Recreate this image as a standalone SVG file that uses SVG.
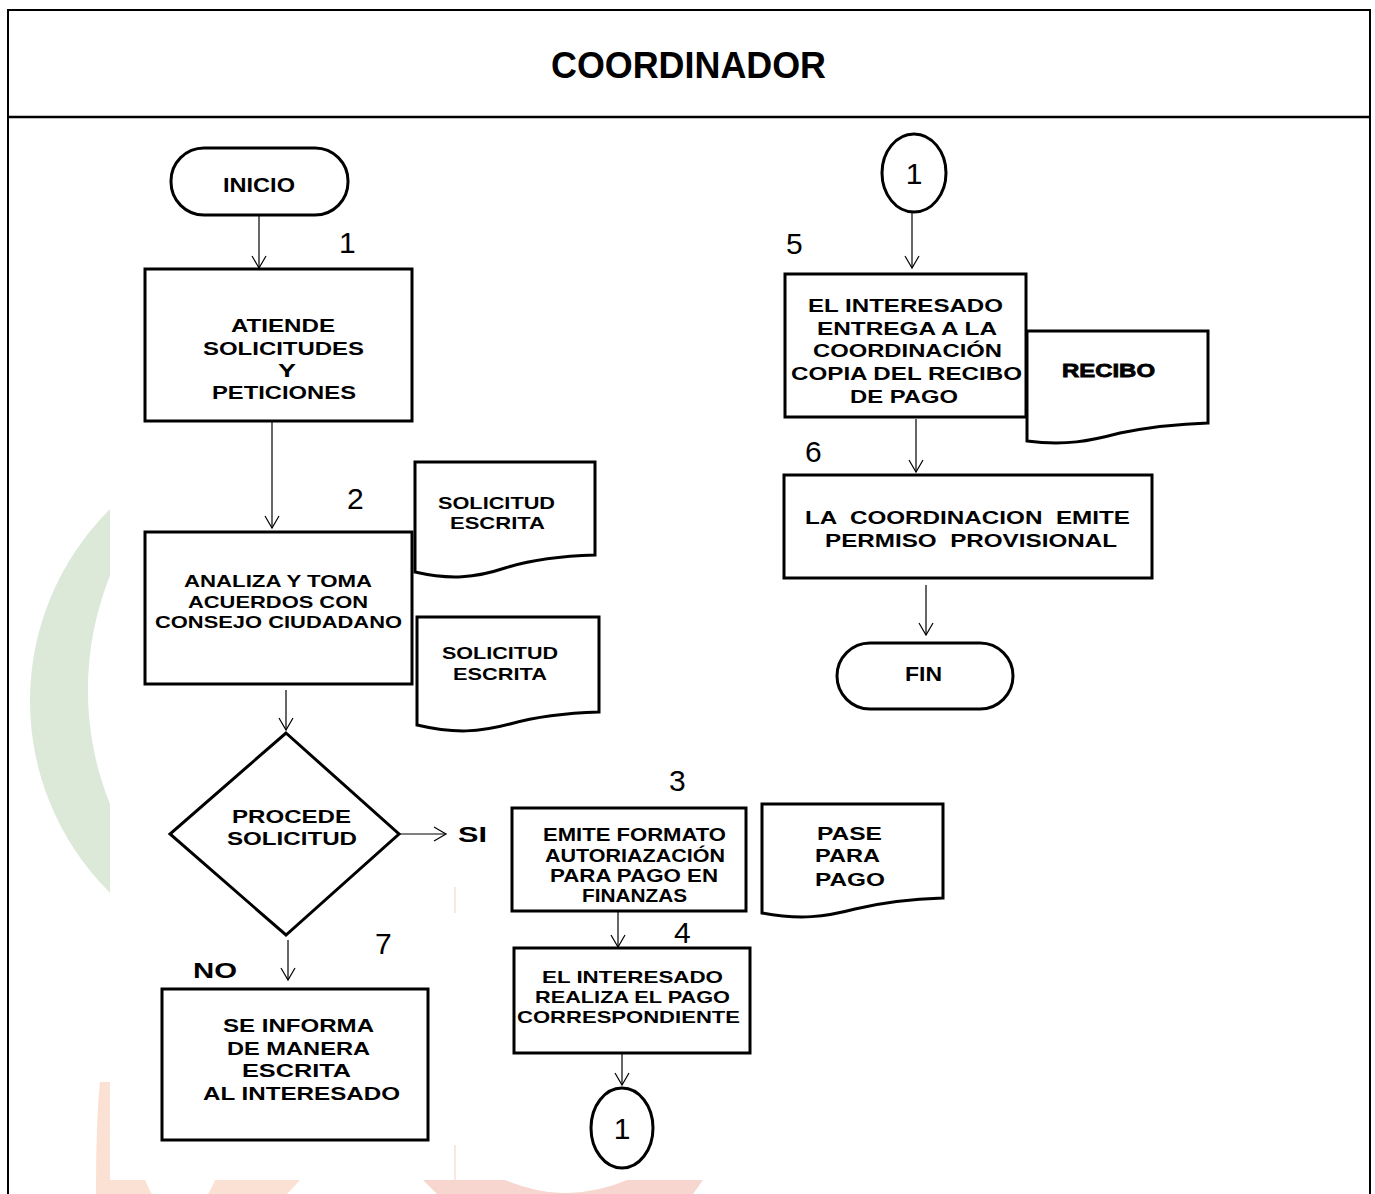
<svg xmlns="http://www.w3.org/2000/svg" width="1375" height="1194" viewBox="0 0 1375 1194">
<style>
.shape{fill:#fff;stroke:#000;stroke-width:3}
.t{font-family:"Liberation Sans",Arial,sans-serif;font-weight:bold;fill:#000}
.n{font-family:"Liberation Sans",Arial,sans-serif;font-size:30px;fill:#000}
.c{stroke:#000;stroke-width:1.2;fill:none}
.pre{white-space:pre}
</style>
<defs>
<marker id="arr" markerUnits="userSpaceOnUse" viewBox="-14 -9 16 18" refX="0" refY="0" markerWidth="16" markerHeight="18" orient="auto">
<path d="M-12,-7 L0,0 L-12,7" fill="none" stroke="#000" stroke-width="1.2"/>
</marker>
<clipPath id="gclip"><rect x="0" y="0" width="110" height="1194"/></clipPath>
</defs>
<rect width="1375" height="1194" fill="#fff"/>
<g id="watermark">
<path clip-path="url(#gclip)" fill="#dce9d9" fill-rule="evenodd" d="M300,431 A270,270 0 1 0 300,971 A270,270 0 1 0 300,431 Z M394,384 A306,306 0 1 0 394,996 A306,306 0 1 0 394,384 Z"/>
<path fill="#fbe1d3" d="M100,1082 L110,1082 L110,1180 L145,1180 Q150,1192 152,1194 L96,1194 Q96,1120 100,1082 Z"/>
<path fill="#fbe1d3" d="M215,1180 L300,1180 L287,1194 L208,1194 Q213,1186 215,1180 Z"/>
<path fill="#f7d6d0" d="M423,1180 L505,1180 Q540,1194 567,1193 Q600,1192 627,1180 L703,1180 L693,1194 L437,1194 Z"/>
<line x1="455" y1="887" x2="455" y2="913" stroke="#f5cfc9" stroke-width="1"/>
<line x1="455" y1="1145" x2="455" y2="1180" stroke="#f5cfc9" stroke-width="1"/>
</g>
<g id="frame">
<rect x="8" y="10" width="1362" height="1190" fill="none" stroke="#000" stroke-width="2"/>
<line x1="8" y1="117" x2="1370" y2="117" stroke="#000" stroke-width="2.5"/>
<text class="t" x="551" y="78" font-size="37" textLength="275" lengthAdjust="spacingAndGlyphs">COORDINADOR</text>
</g>
<g id="connectors">
<line class="c" x1="259" y1="216" x2="259" y2="268" marker-end="url(#arr)"/>
<line class="c" x1="272" y1="422" x2="272" y2="528" marker-end="url(#arr)"/>
<line class="c" x1="286" y1="690" x2="286" y2="730" marker-end="url(#arr)"/>
<line class="c" x1="399" y1="834" x2="446" y2="834" marker-end="url(#arr)"/>
<line class="c" x1="288" y1="940" x2="288" y2="980" marker-end="url(#arr)"/>
<line class="c" x1="618" y1="910" x2="618" y2="947" marker-end="url(#arr)"/>
<line class="c" x1="622" y1="1047" x2="622" y2="1085" marker-end="url(#arr)"/>
<line class="c" x1="912" y1="212" x2="912" y2="268" marker-end="url(#arr)"/>
<line class="c" x1="916" y1="419" x2="916" y2="472" marker-end="url(#arr)"/>
<line class="c" x1="926" y1="585" x2="926" y2="635" marker-end="url(#arr)"/>
</g>
<g id="inicio">
<rect class="shape" x="171" y="148" width="177" height="67" rx="33"/>
<text class="t" x="223" y="192" font-size="20" textLength="72" lengthAdjust="spacingAndGlyphs">INICIO</text>
</g>
<g id="step1">
<text class="n" x="339" y="253">1</text>
<rect class="shape" x="145" y="269" width="267" height="152"/>
<text class="t" font-size="19" x="231" y="332" textLength="104" lengthAdjust="spacingAndGlyphs">ATIENDE</text>
<text class="t" font-size="19" x="203" y="355" textLength="161" lengthAdjust="spacingAndGlyphs">SOLICITUDES</text>
<text class="t" font-size="19" x="278" y="377" textLength="18" lengthAdjust="spacingAndGlyphs">Y</text>
<text class="t" font-size="19" x="212" y="399" textLength="144" lengthAdjust="spacingAndGlyphs">PETICIONES</text>
</g>
<g id="step2">
<text class="n" x="347" y="509">2</text>
<rect class="shape" x="145" y="532" width="267" height="152"/>
<text class="t" font-size="17" x="184" y="587" textLength="188" lengthAdjust="spacingAndGlyphs">ANALIZA Y TOMA</text>
<text class="t" font-size="17" x="188" y="608" textLength="180" lengthAdjust="spacingAndGlyphs">ACUERDOS CON</text>
<text class="t" font-size="17" x="155" y="628" textLength="247" lengthAdjust="spacingAndGlyphs">CONSEJO CIUDADANO</text>
</g>
<g id="doc-solicitud-1">
<path class="shape" d="M415,462 L595,462 L595,555 C560,556 530,560 505,568 C475,578 450,580 415,572 Z"/>
<text class="t" font-size="17" x="438" y="509" textLength="117" lengthAdjust="spacingAndGlyphs">SOLICITUD</text>
<text class="t" font-size="17" x="450" y="529" textLength="95" lengthAdjust="spacingAndGlyphs">ESCRITA</text>
</g>
<g id="doc-solicitud-2">
<path class="shape" d="M417,617 L599,617 L599,712 C565,713 535,717 510,724 C480,732 455,734 417,725 Z"/>
<text class="t" font-size="17" x="442" y="659" textLength="116" lengthAdjust="spacingAndGlyphs">SOLICITUD</text>
<text class="t" font-size="17" x="453" y="680" textLength="94" lengthAdjust="spacingAndGlyphs">ESCRITA</text>
</g>
<g id="decision">
<polygon class="shape" points="286,733 399,834 286,935 170,834"/>
<text class="t" font-size="19" x="232" y="823" textLength="119" lengthAdjust="spacingAndGlyphs">PROCEDE</text>
<text class="t" font-size="19" x="227" y="845" textLength="130" lengthAdjust="spacingAndGlyphs">SOLICITUD</text>
<text class="t" font-size="22" x="458" y="842" textLength="29" lengthAdjust="spacingAndGlyphs">SI</text>
<text class="t" font-size="22" x="193" y="978" textLength="44" lengthAdjust="spacingAndGlyphs">NO</text>
</g>
<g id="step7">
<text class="n" x="375" y="954">7</text>
<rect class="shape" x="162" y="989" width="266" height="151"/>
<text class="t" font-size="19" x="223" y="1032" textLength="151" lengthAdjust="spacingAndGlyphs">SE INFORMA</text>
<text class="t" font-size="19" x="227" y="1055" textLength="143" lengthAdjust="spacingAndGlyphs">DE MANERA</text>
<text class="t" font-size="19" x="242" y="1077" textLength="109" lengthAdjust="spacingAndGlyphs">ESCRITA</text>
<text class="t" font-size="19" x="203" y="1100" textLength="197" lengthAdjust="spacingAndGlyphs">AL INTERESADO</text>
</g>
<g id="step3">
<text class="n" x="669" y="791">3</text>
<rect class="shape" x="512" y="808" width="234" height="103"/>
<text class="t" font-size="18" x="543" y="841" textLength="183" lengthAdjust="spacingAndGlyphs">EMITE FORMATO</text>
<text class="t" font-size="18" x="545" y="862" textLength="180" lengthAdjust="spacingAndGlyphs">AUTORIAZACIÓN</text>
<text class="t" font-size="18" x="550" y="882" textLength="168" lengthAdjust="spacingAndGlyphs">PARA PAGO EN</text>
<text class="t" font-size="18" x="582" y="902" textLength="105" lengthAdjust="spacingAndGlyphs">FINANZAS</text>
</g>
<g id="doc-pase">
<path class="shape" d="M762,804 L943,804 L943,898 C910,899 880,903 855,909 C825,917 800,920 762,913 Z"/>
<text class="t" font-size="19" x="817" y="840" textLength="65" lengthAdjust="spacingAndGlyphs">PASE</text>
<text class="t" font-size="19" x="815" y="862" textLength="65" lengthAdjust="spacingAndGlyphs">PARA</text>
<text class="t" font-size="19" x="815" y="886" textLength="70" lengthAdjust="spacingAndGlyphs">PAGO</text>
</g>
<g id="step4">
<text class="n" x="674" y="943">4</text>
<rect class="shape" x="514" y="948" width="236" height="105"/>
<text class="t" font-size="17" x="542" y="983" textLength="181" lengthAdjust="spacingAndGlyphs">EL INTERESADO</text>
<text class="t" font-size="17" x="535" y="1003" textLength="195" lengthAdjust="spacingAndGlyphs">REALIZA EL PAGO</text>
<text class="t" font-size="17" x="517" y="1023" textLength="223" lengthAdjust="spacingAndGlyphs">CORRESPONDIENTE</text>
</g>
<g id="connector-out">
<ellipse class="shape" cx="622" cy="1128" rx="31" ry="40"/>
<text class="n" x="622" y="1139" text-anchor="middle">1</text>
</g>
<g id="connector-in">
<ellipse class="shape" cx="914" cy="173" rx="32" ry="39"/>
<text class="n" x="914" y="184" text-anchor="middle">1</text>
</g>
<g id="step5">
<text class="n" x="786" y="254">5</text>
<rect class="shape" x="785" y="274" width="241" height="143"/>
<text class="t" font-size="19" x="808" y="312" textLength="195" lengthAdjust="spacingAndGlyphs">EL INTERESADO</text>
<text class="t" font-size="19" x="817" y="335" textLength="180" lengthAdjust="spacingAndGlyphs">ENTREGA A LA</text>
<text class="t" font-size="19" x="813" y="357" textLength="189" lengthAdjust="spacingAndGlyphs">COORDINACIÓN</text>
<text class="t" font-size="19" x="791" y="380" textLength="231" lengthAdjust="spacingAndGlyphs">COPIA DEL RECIBO</text>
<text class="t" font-size="19" x="850" y="403" textLength="108" lengthAdjust="spacingAndGlyphs">DE PAGO</text>
</g>
<g id="doc-recibo">
<path class="shape" d="M1027,331 L1208,331 L1208,423 C1175,424 1145,428 1120,433 C1090,441 1065,446 1027,441 Z"/>
<text class="t" font-size="19" x="1062" y="377" textLength="93" lengthAdjust="spacingAndGlyphs" stroke="#000" stroke-width="0.8">RECIBO</text>
</g>
<g id="step6">
<text class="n" x="805" y="462">6</text>
<rect class="shape" x="784" y="475" width="368" height="103"/>
<text class="t pre" font-size="19" x="805" y="524" textLength="325" lengthAdjust="spacingAndGlyphs">LA  COORDINACION  EMITE</text>
<text class="t pre" font-size="19" x="825" y="547" textLength="292" lengthAdjust="spacingAndGlyphs">PERMISO  PROVISIONAL</text>
</g>
<g id="fin">
<rect class="shape" x="837" y="643" width="176" height="66" rx="33"/>
<text class="t" font-size="20" x="905" y="681" textLength="37" lengthAdjust="spacingAndGlyphs">FIN</text>
</g>
</svg>
